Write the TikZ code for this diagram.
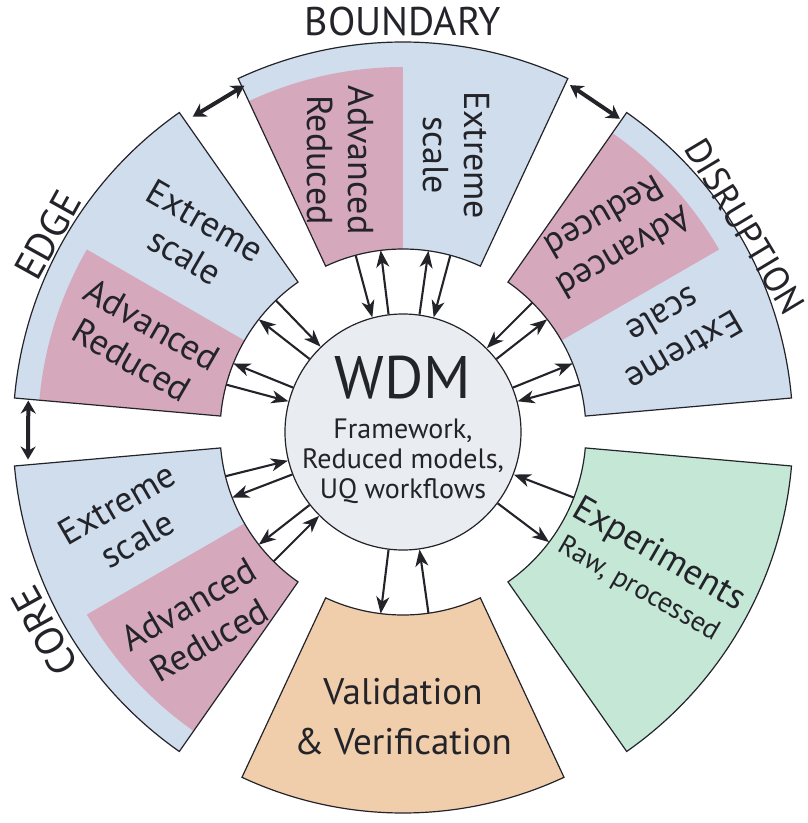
\documentclass[tikz,border=0pt]{standalone}
\usepackage{fontspec}
\setmainfont{PT Sans}
\usetikzlibrary{arrows.meta}
\definecolor{segBlue}{RGB}{207,221,237}
\definecolor{segPink}{RGB}{213,168,188}
\definecolor{segGreen}{RGB}{197,231,214}
\definecolor{segOrange}{RGB}{241,206,171}
\definecolor{hubGray}{RGB}{233,236,241}
\definecolor{lineDark}{RGB}{35,35,42}

% annular piece: options, start angle, end angle, inner radius, outer radius
\newcommand{\ringpart}[5]{\path[#1] (#2:#4) arc[start angle=#2, end angle=#3, radius=#4] -- (#3:#5) arc[start angle=#3, end angle=#2, radius=#5] -- cycle;}

\tikzset{
  segline/.style={draw=lineDark, line width=1.2pt},
  segtext/.style={align=center, text=lineDark, font=\fontsize{36}{41}\selectfont},
  ringlabel/.style={text=lineDark, font=\fontsize{40}{42}\selectfont},
  arr/.style={draw=lineDark, line width=2.1pt, -{Stealth[length=17pt, width=13pt, inset=5pt]}},
  linkarr/.style={draw=lineDark, line width=4pt, {Stealth[length=13pt, width=15pt]}-{Stealth[length=13pt, width=15pt]}}
}

\begin{document}
\begin{tikzpicture}[x=1pt, y=1pt]
  \useasboundingbox (-403,-391) rectangle (404,432);

  % ring segments
  \ringpart{fill=segBlue}{65}{115}{183}{390}
  \ringpart{fill=segPink}{90}{115}{183}{365}
  \ringpart{segline}{65}{115}{183}{390}

  \ringpart{fill=segBlue}{125}{175}{183}{390}
  \ringpart{fill=segPink}{150}{175}{183}{365}
  \ringpart{segline}{125}{175}{183}{390}

  \ringpart{fill=segBlue}{185}{235}{183}{390}
  \ringpart{fill=segPink}{210}{235}{183}{365}
  \ringpart{segline}{185}{235}{183}{390}

  \ringpart{fill=segBlue}{5}{55}{183}{390}
  \ringpart{fill=segPink}{30}{55}{183}{365}
  \ringpart{segline}{5}{55}{183}{390}

  \ringpart{fill=segGreen, segline}{305}{355}{183}{390}
  \ringpart{fill=segOrange, segline}{245}{295}{183}{381}

  % hub
  \node[circle, draw=lineDark, line width=1.2pt, fill=hubGray, minimum size=236pt, inner sep=0pt] (wdm) at (0,0) {};
  \node[text=lineDark, font=\fontsize{60}{60}\selectfont] (wdmtitle) at (0,54) {WDM};
  \node[align=center, text=lineDark, font=\fontsize{28}{30}\selectfont] (wdmsub) at (0,-29) {Framework,\\Reduced models,\\UQ workflows};

  % texts in the segments
  \node[segtext, rotate=-90] (bndadv) at (103:279) {Advanced\\Reduced};
  \node[segtext, rotate=-90] (bndext) at (79:282) {Extreme\\scale};
  \node[segtext, rotate=-30] (edgext) at (137:284) {Extreme\\scale};
  \node[segtext, rotate=-30] (edgadv) at (161:276) {Advanced\\Reduced};
  \node[segtext, rotate=30] (corext) at (198:290) {Extreme\\scale};
  \node[segtext, rotate=30] (coradv) at (223:279) {Advanced\\Reduced};
  \node[segtext, rotate=-150] (disadv) at (43:289) {Advanced\\Reduced};
  \node[segtext, rotate=-150] (disext) at (20:288) {Extreme\\scale};
  \node[align=center, text=lineDark, rotate=-30, font=\fontsize{28}{36}\selectfont] (expt) at (-29.4:283) {{\fontsize{36}{40}\selectfont Experiments}\\[2pt]Raw, processed};
  \node[segtext, font=\fontsize{37}{50}\selectfont] (valtext) at (270:285) {Validation\\\&~Verification};

  % labels round the ring
  \node[ringlabel] (lblbnd) at (90:410) {BOUNDARY};
  \node[ringlabel, rotate=61] (lbledge) at (151:406) {EDGE};
  \node[ringlabel, rotate=119] (lblcore) at (209:410) {CORE};
  \node[ringlabel, font=\fontsize{36}{38}\selectfont, rotate=-59] (lbldis) at (31:399) {DISRUPTION};

  % arrows between hub and segments
  \foreach \a in {75,105,134,165,194,225,15,45,339,278} {
    \coordinate (s\a) at (\a:183);
    \draw[arr] (s\a) -- (wdm.\a);
  }
  \foreach \a in {82,97,142,158,201,218,22,38,323,263} {
    \coordinate (s\a) at (\a:183);
    \draw[arr] (wdm.\a) -- (s\a);
  }

  % links between neighbouring segments
  \coordinate (edgetop) at (123.7:379);
  \coordinate (bndleft) at (114.6:381);
  \coordinate (bndright) at (64.3:385);
  \coordinate (distop) at (55.3:381);
  \coordinate (edgebot) at (175.2:376);
  \coordinate (cortop) at (184.2:376);
  \draw[linkarr] (edgetop) -- (bndleft);
  \draw[linkarr] (bndright) -- (distop);
  \draw[linkarr] (edgebot) -- (cortop);
\end{tikzpicture}
\end{document}
